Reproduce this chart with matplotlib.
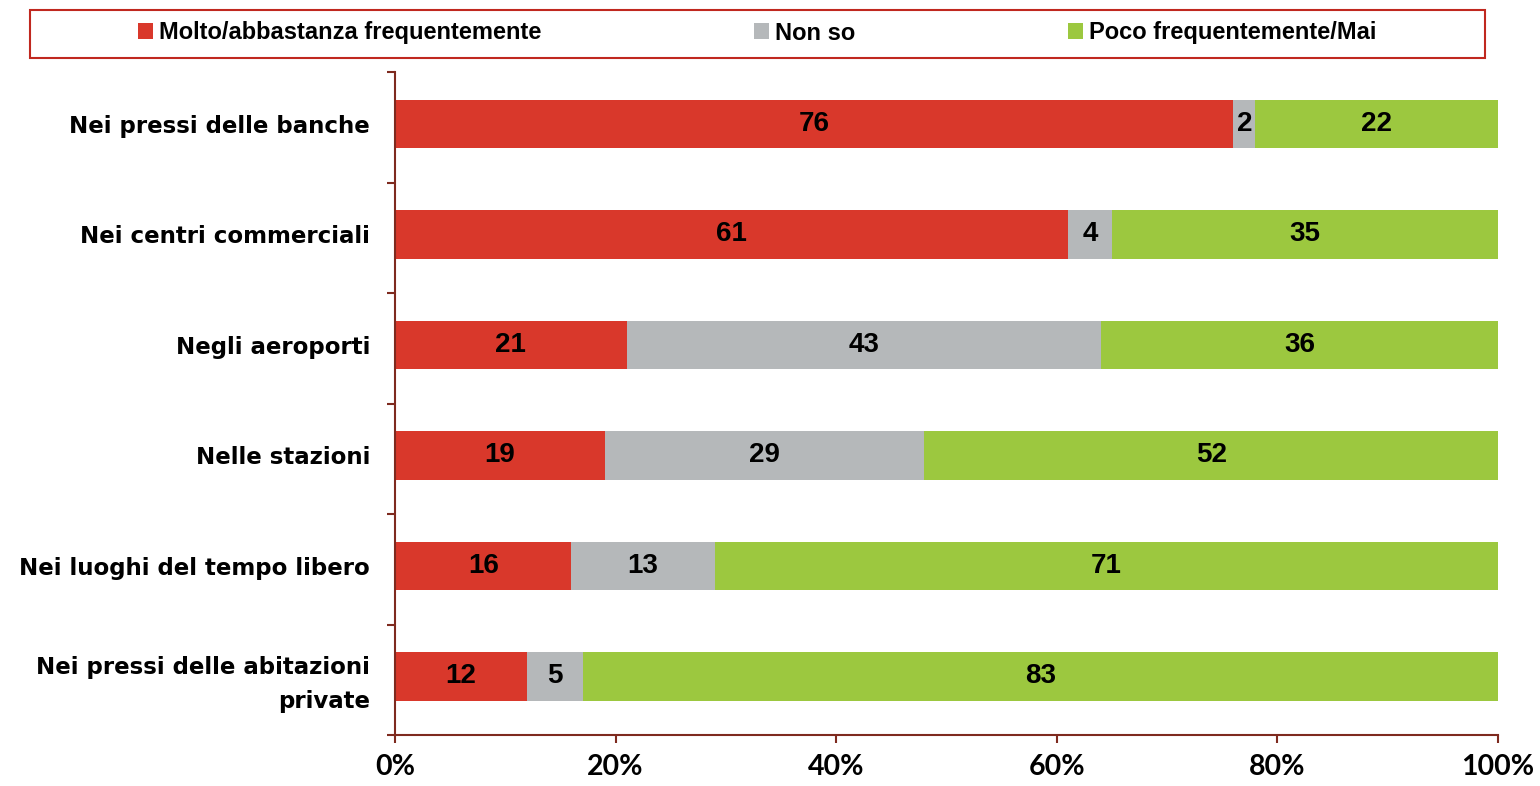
import numpy as np
import matplotlib
matplotlib.use("Agg")
from matplotlib import pyplot as plt
from matplotlib.patches import Rectangle
from matplotlib.ticker import FixedLocator, PercentFormatter

categories = [
    "Nei pressi delle banche",
    "Nei centri commerciali",
    "Negli aeroporti",
    "Nelle stazioni",
    "Nei luoghi del tempo libero",
    "Nei pressi delle abitazioni\nprivate",
]
series_names = ["Molto/abbastanza frequentemente", "Non so", "Poco frequentemente/Mai"]
molto = [76, 61, 21, 19, 16, 12]
non_so = [2, 4, 43, 29, 13, 5]
poco = [22, 35, 36, 52, 71, 83]

colors = ["#D9382B", "#B5B8BA", "#9CC83F"]
axis_color = "#7E2A1F"

fig = plt.figure(figsize=(15.4, 7.86), dpi=100)
ax = fig.add_axes([395 / 1540, 1 - 735 / 786, 1103 / 1540, 663 / 786])

y = np.arange(len(categories))
left = np.zeros(len(categories))
for name, vals, col in zip(series_names, [molto, non_so, poco], colors):
    bars = ax.barh(y, vals, left=left, height=0.44, color=col, label=name)
    ax.bar_label(bars, labels=[str(v) for v in vals], label_type="center",
                 fontsize=20, fontweight="bold", family="Liberation Sans", color="black")
    left += np.array(vals)

# bars sit slightly high in the original frame
shift = 0.03
ax.set_xlim(0, 100)
ax.set_ylim(len(categories) - 0.5 + shift, -0.5 + shift)

# y axis: labels at centres, ticks at boundaries
ax.set_yticks(y)
ax.set_yticklabels(categories, fontsize=16.5, fontweight="bold", family="DejaVu Sans",
                   ha="right", multialignment="right", linespacing=1.6)
ax.tick_params(axis="y", which="major", length=0, pad=18)
ax.yaxis.set_minor_locator(FixedLocator(np.arange(len(categories) + 1) - 0.5 + shift))
ax.tick_params(axis="y", which="minor", length=6, width=1.5, color=axis_color, direction="out")

ax.set_xticks([0, 20, 40, 60, 80, 100])
ax.xaxis.set_major_formatter(PercentFormatter(decimals=0))
for lbl in ax.get_xticklabels():
    lbl.set_fontsize(20.5)
    lbl.set_fontweight("bold")
    lbl.set_family("Lato")
ax.tick_params(axis="x", length=6, width=1.5, color=axis_color, pad=8, direction="out")

for side in ["top", "right"]:
    ax.spines[side].set_visible(False)
for side in ["left", "bottom"]:
    ax.spines[side].set_color(axis_color)
    ax.spines[side].set_linewidth(1.5)

# legend across the top with a framed box
fig.patches.append(Rectangle((30 / 1540, 1 - 58 / 786), 1455 / 1540, 48 / 786,
                             transform=fig.transFigure, fill=False,
                             edgecolor="#C0281F", linewidth=1.5))
handles, labels = ax.get_legend_handles_labels()
fig.legend(handles, labels, loc="center", bbox_to_anchor=(757 / 1540, 1 - 33 / 786),
           ncol=3, frameon=False, handlelength=0.65, handleheight=0.65,
           handletextpad=0.25, columnspacing=9.0,
           prop={"family": "Liberation Sans", "weight": "bold", "size": 17})

fig.savefig("out.png", dpi=100)
